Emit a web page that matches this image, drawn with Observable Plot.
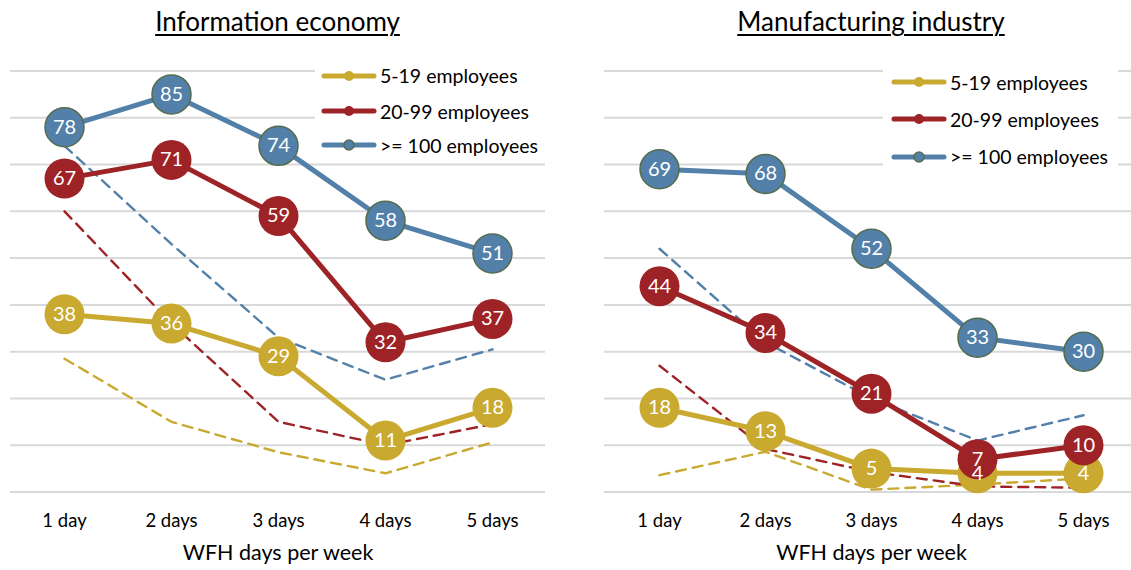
<!DOCTYPE html>
<html><head><meta charset="utf-8">
<script src="https://cdn.jsdelivr.net/npm/d3@7"></script>
<script src="https://cdn.jsdelivr.net/npm/@observablehq/plot@0.6"></script>
<style>
body{margin:0;background:#fff;font-family:Lato,"Open Sans",sans-serif;}
#wrap{position:relative;width:1131px;height:570px;overflow:hidden;background:#fff;}
.title{position:absolute;top:6px;font-size:26px;line-height:31px;text-decoration:underline;text-decoration-thickness:1.5px;text-underline-offset:3px;text-align:center;color:#000;}
.panel{position:absolute;top:0;}
.legend{position:absolute;background:#fff;}
.row{position:absolute;height:24px;display:flex;align-items:center;font-size:19.5px;white-space:nowrap;color:#000;}
.row svg{margin-right:3px;}
</style></head><body><div id="wrap"></div>
<script>
const categories = ["1 day", "2 days", "3 days", "4 days", "5 days"];
const seriesNames = ["5-19 employees", "20-99 employees", ">= 100 employees"];
const yTicks = [0, 10, 20, 30, 40, 50, 60, 70, 80, 90];
const panelTitles = ["Information economy", "Manufacturing industry"];
const axisTitle = "WFH days per week";

// Information economy
const infoSmall = [38, 36, 29, 11, 18];
const infoMid = [67, 71, 59, 32, 37];
const infoLarge = [78, 85, 74, 58, 51];
const infoSmallDashed = [28.5, 15, 8.5, 4, 10.6];
const infoMidDashed = [60, 36, 15, 10, 14.5];
const infoLargeDashed = [74, 53, 33, 24, 30.5];

// Manufacturing industry
const manuSmall = [18, 13, 5, 4, 4];
const manuMid = [44, 34, 21, 7, 10];
const manuLarge = [69, 68, 52, 33, 30];
const manuSmallDashed = [3.6, 8.6, 0.5, 1.6, 2.9];
const manuMidDashed = [27, 9.2, 4.3, 1.2, 0.9];
const manuLargeDashed = [52, 32, 20, 11, 16.4];

const colors = ["#C9A92F", "#9E2326", "#5280A9"];
const markerStroke = ["none", "none", "#556C4E"];

function rows(values, s) {
  return categories.map((c, i) => ({day: c, value: values[i], series: seriesNames[s]}));
}

function panel(solid, dashed, opts) {
  const marks = [Plot.ruleY(yTicks, {stroke: "#D9D9D9", strokeWidth: 2})];
  dashed.forEach((v, s) => {
    marks.push(Plot.line(rows(v, s), {x: "day", y: "value", stroke: colors[s], strokeWidth: 2.4, strokeDasharray: "10,7"}));
  });
  solid.forEach((v, s) => {
    marks.push(Plot.line(rows(v, s), {x: "day", y: "value", stroke: colors[s], strokeWidth: 5, strokeLinejoin: "round"}));
    marks.push(Plot.dot(rows(v, s), {x: "day", y: "value", r: s === 2 ? 19.5 : 20, fill: colors[s], stroke: markerStroke[s], strokeWidth: 1.5}));
  });
  const all = solid.flatMap((v, s) => rows(v, s));
  marks.push(Plot.text(all, {x: "day", y: "value", text: d => String(d.value), fill: "white", fontSize: 20}));
  marks.push(Plot.axisX({tickSize: 0, tickPadding: 22, fontSize: 18.5, label: null}));
  marks.push(Plot.text([axisTitle], {frameAnchor: "bottom", lineAnchor: "bottom", dy: 68, fontSize: 21.5, fill: "#000"}));
  return Plot.plot({
    width: opts.width, height: 570,
    marginLeft: 10, marginRight: opts.marginRight,
    marginTop: 70.5, marginBottom: 78.5,
    x: {type: "point", domain: categories, padding: 0.5},
    y: {domain: [0, 90], axis: null},
    style: {fontFamily: "Lato, 'Open Sans', sans-serif", color: "#000", background: "#fff"},
    marks
  });
}

const wrap = document.getElementById("wrap");

const left = panel([infoSmall, infoMid, infoLarge], [infoSmallDashed, infoMidDashed, infoLargeDashed], {width: 565, marginRight: 20});
left.classList.add("panel"); left.style.left = "0px";
wrap.appendChild(left);

const right = panel([manuSmall, manuMid, manuLarge], [manuSmallDashed, manuMidDashed, manuLargeDashed], {width: 554, marginRight: 10});
right.classList.add("panel"); right.style.left = "594px";
wrap.appendChild(right);

function addTitle(text, x, w) {
  const t = document.createElement("div");
  t.className = "title"; t.textContent = text;
  t.style.left = x + "px"; t.style.width = w + "px";
  wrap.appendChild(t);
}
addTitle(panelTitles[0], 10, 535);
addTitle(panelTitles[1], 604, 534);

function addLegend(box, rowYs, swatchX) {
  const lg = document.createElement("div");
  lg.className = "legend";
  Object.assign(lg.style, {left: box[0] + "px", top: box[1] + "px", width: box[2] + "px", height: box[3] + "px"});
  wrap.appendChild(lg);
  seriesNames.forEach((name, s) => {
    const r = document.createElement("div");
    r.className = "row";
    r.style.left = swatchX + "px";
    r.style.top = (rowYs[s] - 12) + "px";
    const sw = d3.create("svg").attr("width", 56).attr("height", 14);
    sw.append("line").attr("x1", 3).attr("x2", 53).attr("y1", 7).attr("y2", 7)
      .attr("stroke", colors[s]).attr("stroke-width", 5).attr("stroke-linecap", "round");
    sw.append("circle").attr("cx", 28).attr("cy", 7).attr("r", 5)
      .attr("fill", colors[s]).attr("stroke", markerStroke[s]).attr("stroke-width", 1.5);
    r.appendChild(sw.node());
    const sp = document.createElement("span"); sp.textContent = name;
    r.appendChild(sp);
    wrap.appendChild(r);
  });
}
addLegend([315, 58, 240, 100], [75.7, 111, 145], 321);
addLegend([883, 60, 235, 114], [82.3, 119, 156.7], 891);
</script></body></html>
